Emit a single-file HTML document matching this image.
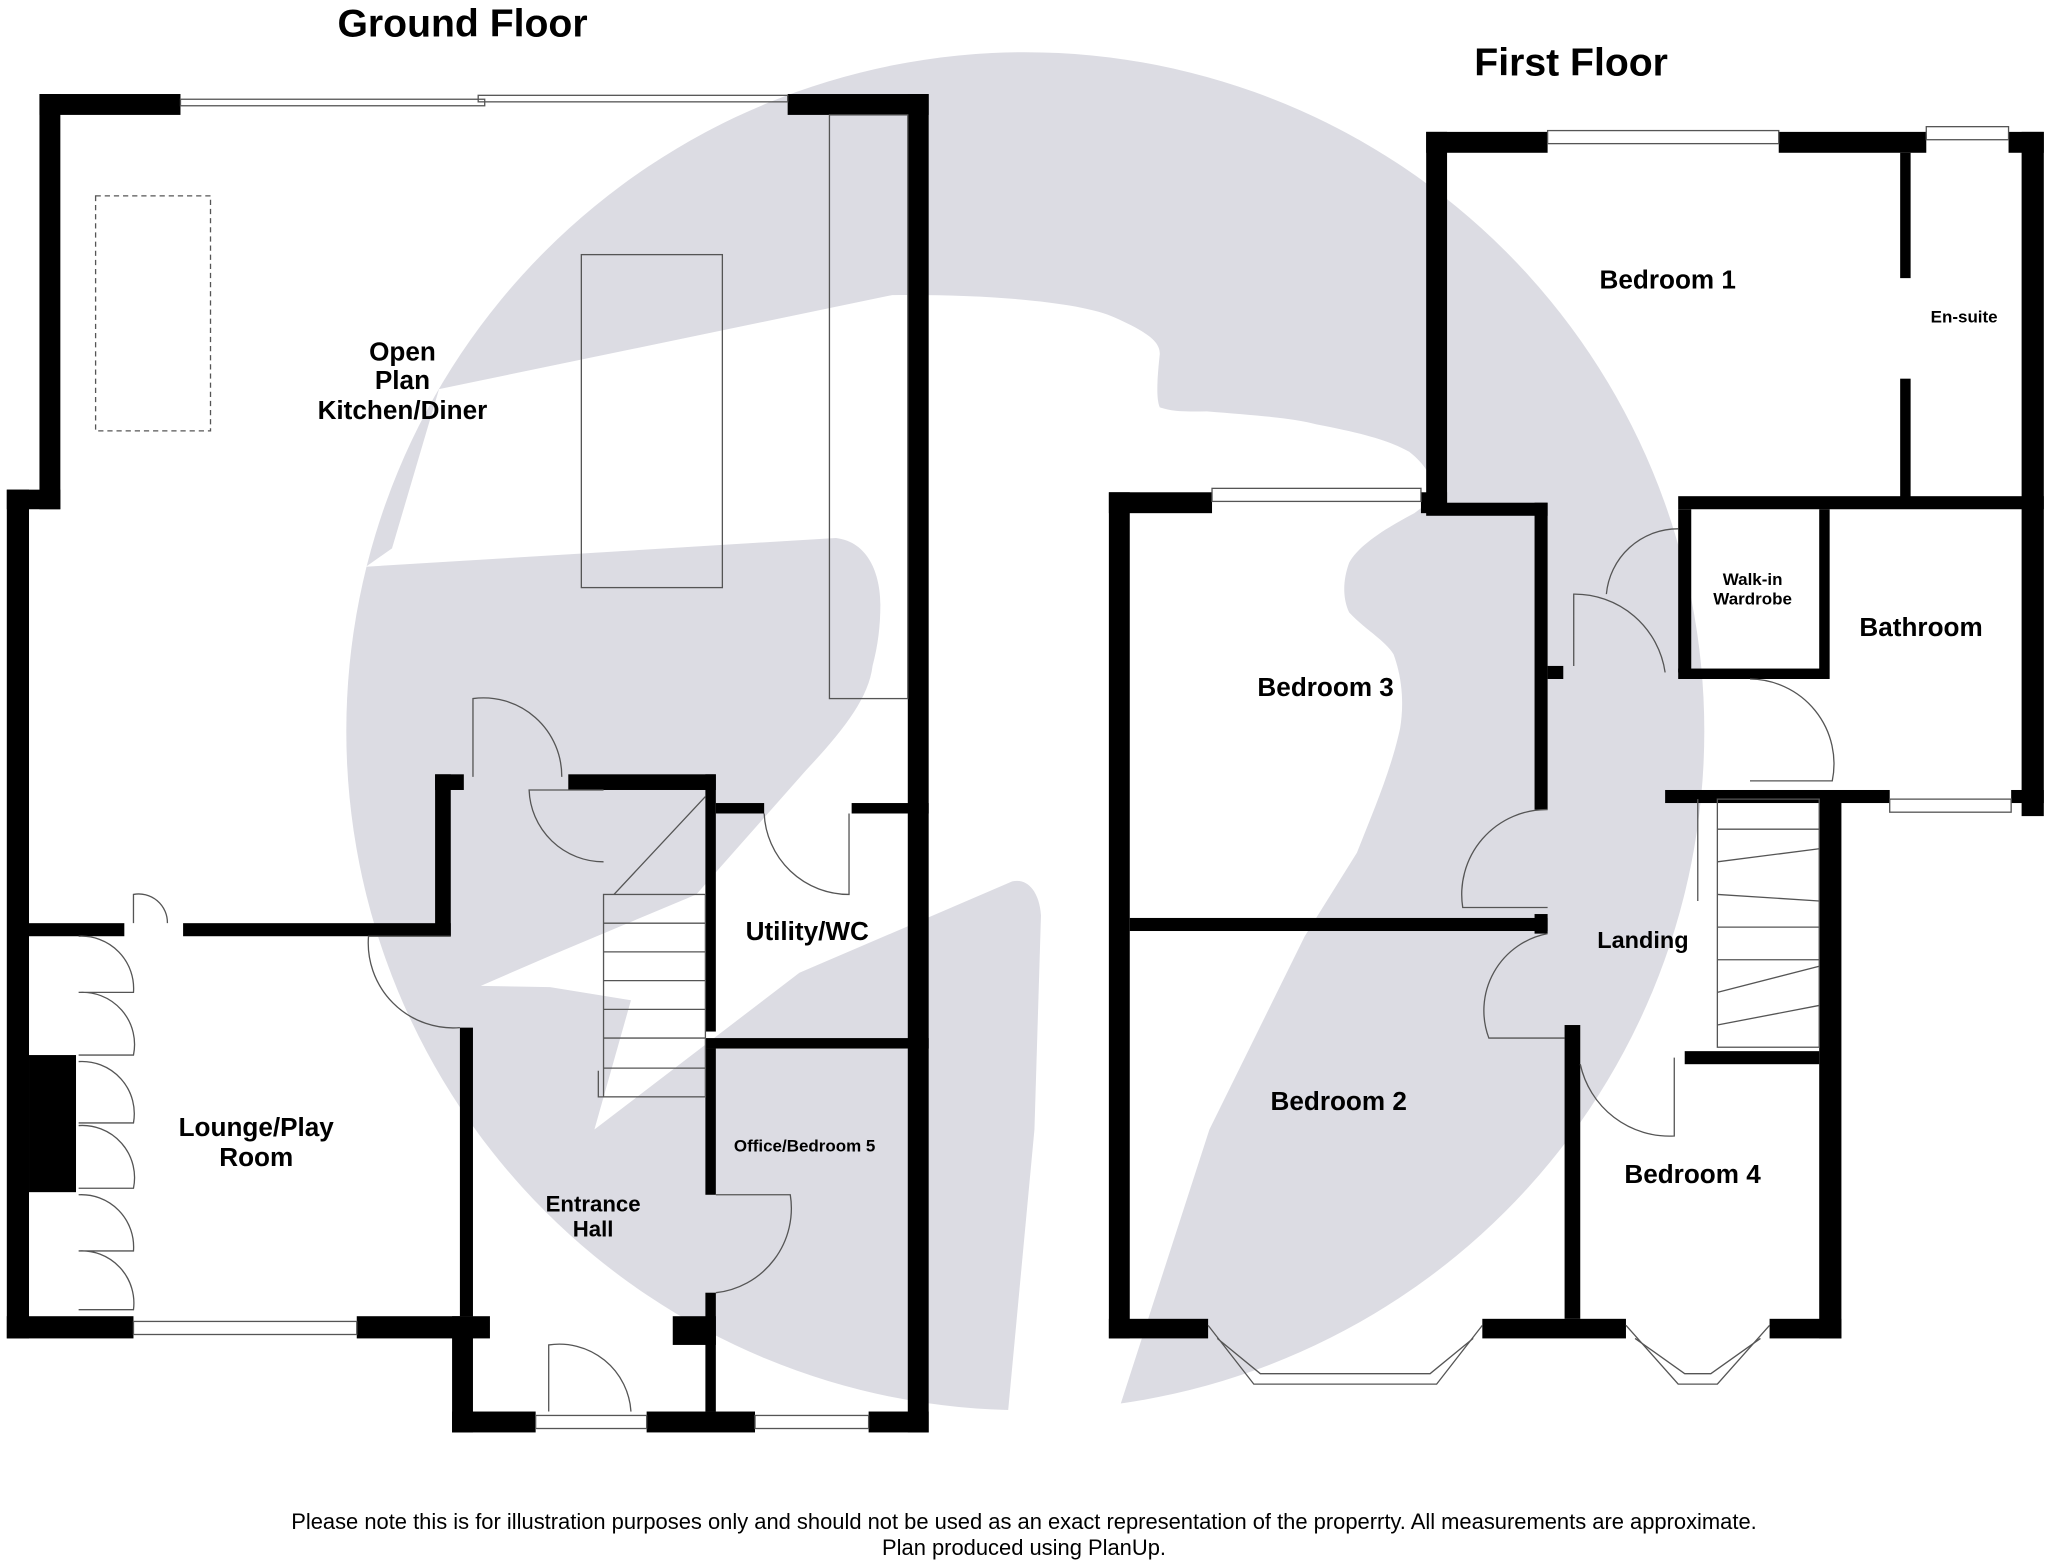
<!DOCTYPE html>
<html><head><meta charset="utf-8"><style>
html,body{margin:0;padding:0;background:#fff;}
svg{display:block;}
text{font-family:"Liberation Sans",Arial,sans-serif;font-weight:bold;fill:#000;}
</style></head><body>
<svg width="2048" height="1563" viewBox="0 0 1568 1197" xmlns="http://www.w3.org/2000/svg">
<rect width="1568" height="1197" fill="#fff"/>
<!-- watermark -->
<circle cx="785" cy="560" r="520" fill="#dcdce3"/>
<path fill="#fff" d="M280,434 L300,420 L336,298 L683,226 C760,225 830,232 853,243 C880,255 888,262 888,271 C886,290 885,305 888,312 C900,316 912,315 924,315 C960,318 990,320 1008,325 C1045,332 1065,338 1079,346 C1092,356 1098,368 1100,380 L1083,393 C1060,405 1040,418 1033,431 C1028,445 1028,458 1033,469 C1045,482 1060,490 1067,501 C1074,520 1075,540 1072,558 C1065,590 1052,620 1039,653 L999,717 L926,865 L850,1100 L770,1100 L792,865 L797,701 C796,685 788,672 775,675 L612,745 L455,865 L483,766 L421,756 L368,755 L421,732 L533,685 L617,590 C645,560 665,535 668,510 C672,495 674,480 674,463 C674,440 665,415 640,412 Z"/>
<g fill="#000">
<!-- GROUND FLOOR walls -->
<rect x="30" y="72" width="108" height="16"/>
<rect x="603" y="72" width="108" height="16"/>
<rect x="30" y="72" width="16" height="318"/>
<rect x="5" y="375" width="41" height="15"/>
<rect x="5" y="375" width="17" height="650"/>
<rect x="695" y="72" width="16" height="1025"/>
<rect x="5" y="1008" width="97" height="17"/>
<rect x="273" y="1008" width="102" height="17"/>
<rect x="346" y="1008" width="16" height="89"/>
<rect x="346" y="1081" width="64" height="16"/>
<rect x="495" y="1081" width="83" height="16"/>
<rect x="665" y="1081" width="46" height="16"/>
<rect x="22" y="707" width="73" height="10"/>
<rect x="140" y="707" width="205" height="10"/>
<rect x="333" y="593" width="12" height="124"/>
<rect x="352" y="787" width="10" height="221"/>
<rect x="333" y="593" width="22" height="12"/>
<rect x="435" y="593" width="113" height="12"/>
<rect x="540" y="593" width="8" height="197"/>
<rect x="548" y="615" width="37" height="8"/>
<rect x="652" y="615" width="59" height="8"/>
<rect x="540" y="795" width="171" height="8"/>
<rect x="540" y="803" width="8" height="112"/>
<rect x="540" y="990" width="8" height="91"/>
<rect x="515" y="1008" width="33" height="22"/>
<rect x="22" y="808" width="36" height="105"/>
<!-- FIRST FLOOR walls -->
<rect x="1092" y="101" width="93" height="16"/>
<rect x="1362" y="101" width="113" height="16"/>
<rect x="1538" y="101" width="27" height="16"/>
<rect x="1092" y="101" width="16" height="292"/>
<rect x="1092" y="385" width="93" height="10"/>
<rect x="1548" y="101" width="17" height="524"/>
<rect x="849" y="377" width="79" height="16"/>
<rect x="1088" y="377" width="20" height="16"/>
<rect x="849" y="377" width="16" height="648"/>
<rect x="849" y="1010" width="76" height="15"/>
<rect x="1135" y="1010" width="110" height="15"/>
<rect x="1355" y="1010" width="55" height="15"/>
<rect x="1393" y="612" width="17" height="413"/>
<rect x="1275" y="605" width="172" height="10"/>
<rect x="1540" y="605" width="25" height="10"/>
<rect x="1455" y="117" width="8" height="96"/>
<rect x="1455" y="290" width="8" height="95"/>
<rect x="1285" y="380" width="280" height="10"/>
<rect x="1285" y="390" width="10" height="125"/>
<rect x="1285" y="512" width="115" height="8"/>
<rect x="1393" y="390" width="8" height="130"/>
<rect x="1175" y="385" width="10" height="235"/>
<rect x="1175" y="700" width="10" height="15"/>
<rect x="865" y="703" width="320" height="10"/>
<rect x="1198" y="785" width="12" height="225"/>
<rect x="1290" y="805" width="103" height="10"/>
<rect x="1185" y="510" width="12" height="10"/>
</g>
<g fill="none" stroke="#555" stroke-width="1">
<rect x="138" y="76" width="233" height="5"/>
<rect x="366" y="73" width="237" height="5"/>
<rect x="102" y="1012" width="171" height="10"/>
<rect x="410" y="1084" width="85" height="10"/>
<rect x="578" y="1084" width="87" height="10"/>
<rect x="1185" y="100" width="177" height="10"/>
<rect x="1475" y="97" width="63" height="10"/>
<rect x="928" y="374" width="160" height="10"/>
<rect x="1447" y="612" width="93" height="10"/>
<path d="M925,1015 L960,1060 L1100,1060 L1135,1015"/>
<path d="M932,1025 L965,1052 L1095,1052 L1128,1025"/>
<path d="M1245,1015 L1285,1060 L1315,1060 L1355,1015"/>
<path d="M1252,1025 L1290,1052 L1310,1052 L1348,1025"/>
<rect x="635" y="88" width="60" height="447"/>
<rect x="445" y="195" width="108" height="255"/>
<rect x="73" y="150" width="88" height="180" stroke-dasharray="4,3"/>
<rect x="462" y="685" width="78" height="155"/>
<path d="M462,707H540M462,729H540M462,751H540M462,773H540M462,795H540M462,818H540M458,820V840H462M470,685L540,610"/>
<rect x="1315" y="612" width="78" height="190"/>
<path d="M1315,635H1393M1315,660L1393,650M1315,685L1393,690M1315,710H1393M1315,735H1393M1315,760L1393,740M1315,785L1393,770M1300,612V690"/>
<path d="M362,595 V535 A60,60 0 0 1 430,595"/>
<path d="M462,605 H405 A57,57 0 0 0 462,660"/>
<path d="M585,623 A65,65 0 0 0 650,685 V623"/>
<path d="M345,717 H282 A65,65 0 0 0 352,787"/>
<path d="M102,707 V685 A22,22 0 0 1 128,707"/>
<path d="M60,717 A40,40 0 0 1 102,760 H60 M60,760 A40,40 0 0 1 102,808 H60 M60,813 A40,40 0 0 1 102,860 H60 M60,862 A40,40 0 0 1 102,910 H60 M60,915 A40,40 0 0 1 102,958 H60 M60,958 A40,40 0 0 1 102,1003 H60"/>
<path d="M548,915 H605 A65,65 0 0 1 548,990"/>
<path d="M420,1081 V1030 A55,55 0 0 1 483,1081"/>
<path d="M1185,620 A65,65 0 0 0 1120,695 H1185"/>
<path d="M1185,715 A60,60 0 0 0 1140,795 H1198"/>
<path d="M1210,815 A70,70 0 0 0 1282,870 V810"/>
<path d="M1205,510 V455 A70,70 0 0 1 1275,515"/>
<path d="M1230,455 A55,55 0 0 1 1285,405"/>
<path d="M1340,520 A65,65 0 0 1 1403,598 H1340"/>
</g>
<text x="354" y="28" font-size="30" text-anchor="middle">Ground Floor</text>
<text x="1203" y="58" font-size="30" text-anchor="middle">First Floor</text>
<g font-size="20" text-anchor="middle">
<text x="308" y="276">Open</text>
<text x="308" y="298">Plan</text>
<text x="308" y="321">Kitchen/Diner</text>
<text x="618" y="720">Utility/WC</text>
<text x="196" y="870">Lounge/Play</text>
<text x="196" y="893">Room</text>
<text x="454" y="928" font-size="17">Entrance</text>
<text x="454" y="947" font-size="17">Hall</text>
<text x="1277" y="221">Bedroom 1</text>
<text x="1015" y="533">Bedroom 3</text>
<text x="1471" y="487">Bathroom</text>
<text x="1258" y="726" font-size="18">Landing</text>
<text x="1025" y="850">Bedroom 2</text>
<text x="1296" y="906">Bedroom 4</text>
</g>
<g font-size="13" text-anchor="middle">
<text x="616" y="882">Office/Bedroom 5</text>
<text x="1504" y="247">En-suite</text>
<text x="1342" y="448">Walk-in</text>
<text x="1342" y="463">Wardrobe</text>
</g>
<g font-size="16.8" text-anchor="middle">
<text x="784" y="1171" style="font-weight:normal">Please note this is for illustration purposes only and should not be used as an exact representation of the properrty. All measurements are approximate.</text>
<text x="784" y="1191" style="font-weight:normal">Plan produced using PlanUp.</text>
</g>
</svg>
</body></html>
